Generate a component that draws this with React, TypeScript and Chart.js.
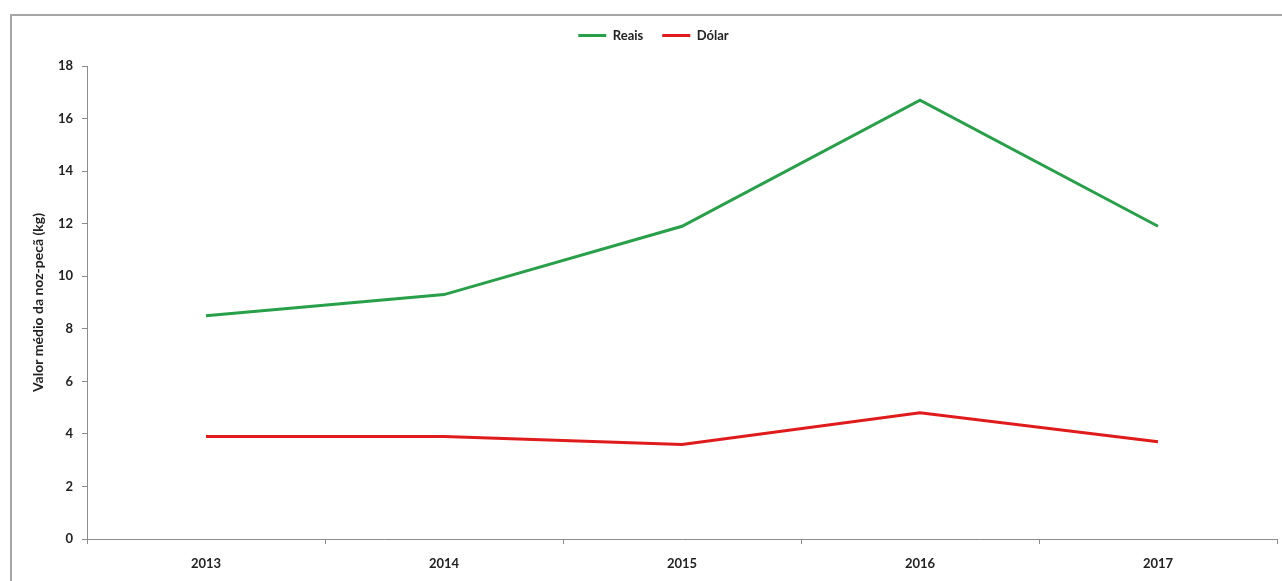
import React, { useEffect, useRef } from "react";
import { Chart, registerables } from "chart.js";

Chart.register(...registerables);

const years = ["2013", "2014", "2015", "2016", "2017"];
const reais = [8.5, 9.3, 11.9, 16.7, 11.9];
const dolar = [3.9, 3.9, 3.6, 4.8, 3.7];
const yTicks = [0, 2, 4, 6, 8, 10, 12, 14, 16, 18];
const yTitle = "Valor médio da noz-pecã (kg)";

const GREEN = "#27a049";
const RED = "#e01b1b";
const AXIS = "#8c8c8c";
const FONT = "Lato, 'Open Sans', sans-serif";

const legendTweak = {
  id: "legendTweak",
  beforeLayout(chart: any) {
    const lg = chart.legend;
    if (lg && !lg._tweaked) {
      const f = lg.fit;
      lg.fit = function (this: any) {
        f.call(this);
        this.height += 14;
      };
      lg._tweaked = true;
    }
  },
  afterLayout(chart: any) {
    const lg = chart.legend;
    if (lg) {
      lg.left += 15;
      lg.right += 15;
    }
  },
};

export default function App() {
  const ref = useRef<HTMLCanvasElement | null>(null);
  useEffect(() => {
    if (!ref.current) return;
    const chart = new Chart(ref.current, {
      type: "line",
      data: {
        labels: years,
        datasets: [
          {
            label: "Reais",
            data: reais,
            borderColor: GREEN,
            backgroundColor: GREEN,
            borderWidth: 3,
            pointRadius: 0,
            tension: 0,
          },
          {
            label: "Dólar",
            data: dolar,
            borderColor: RED,
            backgroundColor: RED,
            borderWidth: 3,
            pointRadius: 0,
            tension: 0,
          },
        ],
      },
      plugins: [legendTweak],
      options: {
        animation: false,
        responsive: false,
        layout: { padding: { left: 0, right: 5, top: 10, bottom: 0 } },
        plugins: {
          tooltip: { enabled: false },
          legend: {
            position: "top",
            labels: {
              boxWidth: 28,
              boxHeight: 3,
              padding: 19,
              color: "#222",
              font: { family: FONT, size: 13, weight: "bold" },
              generateLabels: (c: any) =>
                c.data.datasets.map((d: any, i: number) => ({
                  text: d.label,
                  fillStyle: d.borderColor,
                  strokeStyle: d.borderColor,
                  lineWidth: 0,
                  fontColor: "#222",
                  hidden: false,
                  datasetIndex: i,
                })),
            },
          },
        },
        scales: {
          x: {
            offset: true,
            grid: {
              offset: true,
              drawOnChartArea: false,
              drawTicks: true,
              tickLength: 5,
              color: AXIS,
            },
            border: { color: AXIS, width: 1 },
            ticks: {
              color: "#222",
              padding: 12,
              font: { family: FONT, size: 13, weight: "bold" },
            },
            afterFit: (s: any) => {
              s.height = 42;
            },
          },
          y: {
            min: 0,
            max: 18,
            afterBuildTicks: (s: any) => {
              s.ticks = yTicks.map((v) => ({ value: v }));
            },
            grid: {
              drawOnChartArea: false,
              drawTicks: true,
              tickLength: 5,
              color: AXIS,
            },
            border: { color: AXIS, width: 1 },
            ticks: {
              color: "#222",
              padding: 9,
              font: { family: FONT, size: 13, weight: "bold" },
            },
            title: {
              display: true,
              text: yTitle,
              color: "#222",
              padding: { top: 30, bottom: 0 },
              font: { family: FONT, size: 14, weight: "bold" },
            },
            afterFit: (s: any) => {
              s.width = 87;
            },
          },
        },
      },
    });
    return () => chart.destroy();
  }, []);

  return (
    <div
      style={{
        position: "fixed",
        left: 0,
        top: 0,
        width: 1282,
        height: 581,
        overflow: "hidden",
        background: "#fff",
      }}
    >
      <div
        style={{
          position: "absolute",
          left: 10,
          top: 14,
          width: 1400,
          height: 700,
          borderTop: "2px solid #a6a6a6",
          borderLeft: "2px solid #a6a6a6",
        }}
      />
      <canvas
        ref={ref}
        width={1282}
        height={581}
        style={{ position: "absolute", left: 0, top: 0 }}
      />
    </div>
  );
}
